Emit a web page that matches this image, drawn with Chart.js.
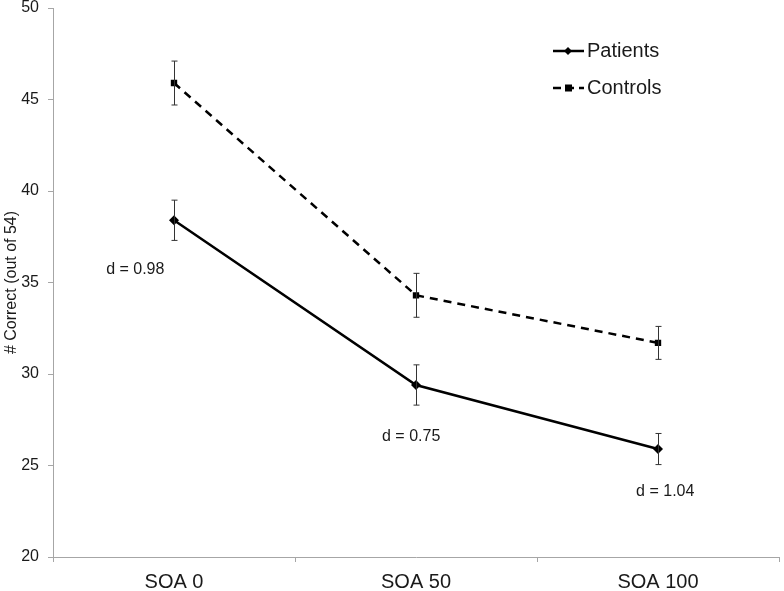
<!DOCTYPE html>
<html>
<head>
<meta charset="utf-8">
<script src="https://cdn.jsdelivr.net/npm/chart.js@4/dist/chart.umd.min.js"></script>
<style>
  html,body{margin:0;padding:0;background:#fff;}
  #wrap{width:784px;height:591px;position:relative;}
</style>
</head>
<body>
<div id="wrap"><canvas id="chart" width="784" height="591"></canvas></div>
<script>
// 資料
const categories = ['SOA 0', 'SOA 50', 'SOA 100'];
const patients = [38.4, 29.4, 25.9];
const patientsErr = [1.1, 1.1, 0.85];
const controls = [45.9, 34.3, 31.7];
const controlsErr = [1.2, 1.2, 0.9];
const yTicks = [20, 25, 30, 35, 40, 45, 50];
// 效果量標籤（類別位置、y 值）
const dLabels = ['d = 0.98', 'd = 0.75', 'd = 1.04'];
const dLabelX = [-0.16, 0.98, 2.03];
const dLabelY = [35.7, 26.6, 23.6];

const FONT = '"Liberation Sans", Arial, sans-serif';
const AXIS = '#a6a6a6';
const INK = '#1a1a1a';

const errBars = {
  id:'errBars',
  afterDatasetsDraw(c){
    const {ctx, scales:{x,y}} = c;
    const errs = [patientsErr, controlsErr];
    ctx.save();
    ctx.strokeStyle = '#333'; ctx.lineWidth = 1;
    c.data.datasets.forEach((ds,di)=>{
      ds.data.forEach((v,i)=>{
        const px = Math.round(x.getPixelForValue(i)) + 0.5;
        const t = y.getPixelForValue(v + errs[di][i]), b = y.getPixelForValue(v - errs[di][i]);
        ctx.beginPath();
        ctx.moveTo(px,t); ctx.lineTo(px,b);
        ctx.moveTo(px-3,t); ctx.lineTo(px+3,t);
        ctx.moveTo(px-3,b); ctx.lineTo(px+3,b);
        ctx.stroke();
      });
    });
    // d labels
    ctx.fillStyle = INK; ctx.font = '16px ' + FONT;
    ctx.textAlign = 'center'; ctx.textBaseline = 'middle';
    dLabels.forEach((s,i)=>{
      const px = x.getPixelForValue(0) + dLabelX[i]*(x.getPixelForValue(1)-x.getPixelForValue(0));
      ctx.fillText(s, px, y.getPixelForValue(dLabelY[i]));
    });
    ctx.restore();
  }
};

const legendPlug = {
  id:'legendPlug',
  afterDraw(c){
    const {ctx} = c;
    const items = [
      {t:'Patients', dash:[], mark:'diamond', y:51},
      {t:'Controls', dash:[8,5], mark:'square', y:88}
    ];
    ctx.save();
    items.forEach(it=>{
      ctx.strokeStyle = '#000'; ctx.lineWidth = 2.5; ctx.setLineDash(it.dash);
      ctx.beginPath(); ctx.moveTo(553,it.y); ctx.lineTo(584,it.y); ctx.stroke();
      ctx.setLineDash([]); ctx.fillStyle = '#000';
      if(it.mark==='diamond'){
        ctx.beginPath(); ctx.moveTo(568,it.y-4); ctx.lineTo(572,it.y); ctx.lineTo(568,it.y+4); ctx.lineTo(564,it.y); ctx.closePath(); ctx.fill();
      } else {
        ctx.fillRect(565,it.y-3.5,7,7);
      }
      ctx.fillStyle = INK; ctx.font = '20px ' + FONT;
      ctx.textAlign = 'left'; ctx.textBaseline = 'middle';
      ctx.fillText(it.t, 587, it.y);
    });
    ctx.restore();
  }
};

new Chart(document.getElementById('chart'), {
  type:'line',
  data:{labels:categories, datasets:[
    {label:'Patients', data:patients, borderColor:'#000', backgroundColor:'#000', borderWidth:2.5,
      pointStyle:'rectRot', pointRadius:5, pointBorderWidth:0, tension:0},
    {label:'Controls', data:controls, borderColor:'#000', backgroundColor:'#000', borderWidth:2.5, borderDash:[8,6],
      pointStyle:'rect', pointRadius:4.5, pointBorderWidth:0, tension:0}
  ]},
  options:{
    responsive:false, animation:false,
    layout:{padding:{top:8, right:2, left:0, bottom:0}},
    plugins:{legend:{display:false}, tooltip:{enabled:false}},
    scales:{
      x:{
        offset:true,
        grid:{drawOnChartArea:false, offset:true, tickLength:5, color:AXIS},
        border:{color:AXIS},
        ticks:{color:INK, font:{family:FONT, size:20}, padding:8},
        afterFit:s=>{ s.height = 34; s.paddingLeft = 0; s.paddingRight = 0; }
      },
      y:{
        min:20, max:50,
        afterBuildTicks:s=>{ s.ticks = yTicks.map(v=>({value:v})); },
        grid:{drawOnChartArea:false, tickLength:5, color:AXIS},
        border:{color:AXIS},
        ticks:{color:INK, font:{family:FONT, size:16}, padding:9},
        title:{display:true, text:'# Correct (out of 54)', color:INK, font:{family:FONT, size:16}, padding:2},
        afterFit:s=>{ s.width = 53; s.paddingTop = 0; s.paddingBottom = 0; }
      }
    }
  },
  plugins:[errBars, legendPlug]
});
</script>
</body>
</html>
